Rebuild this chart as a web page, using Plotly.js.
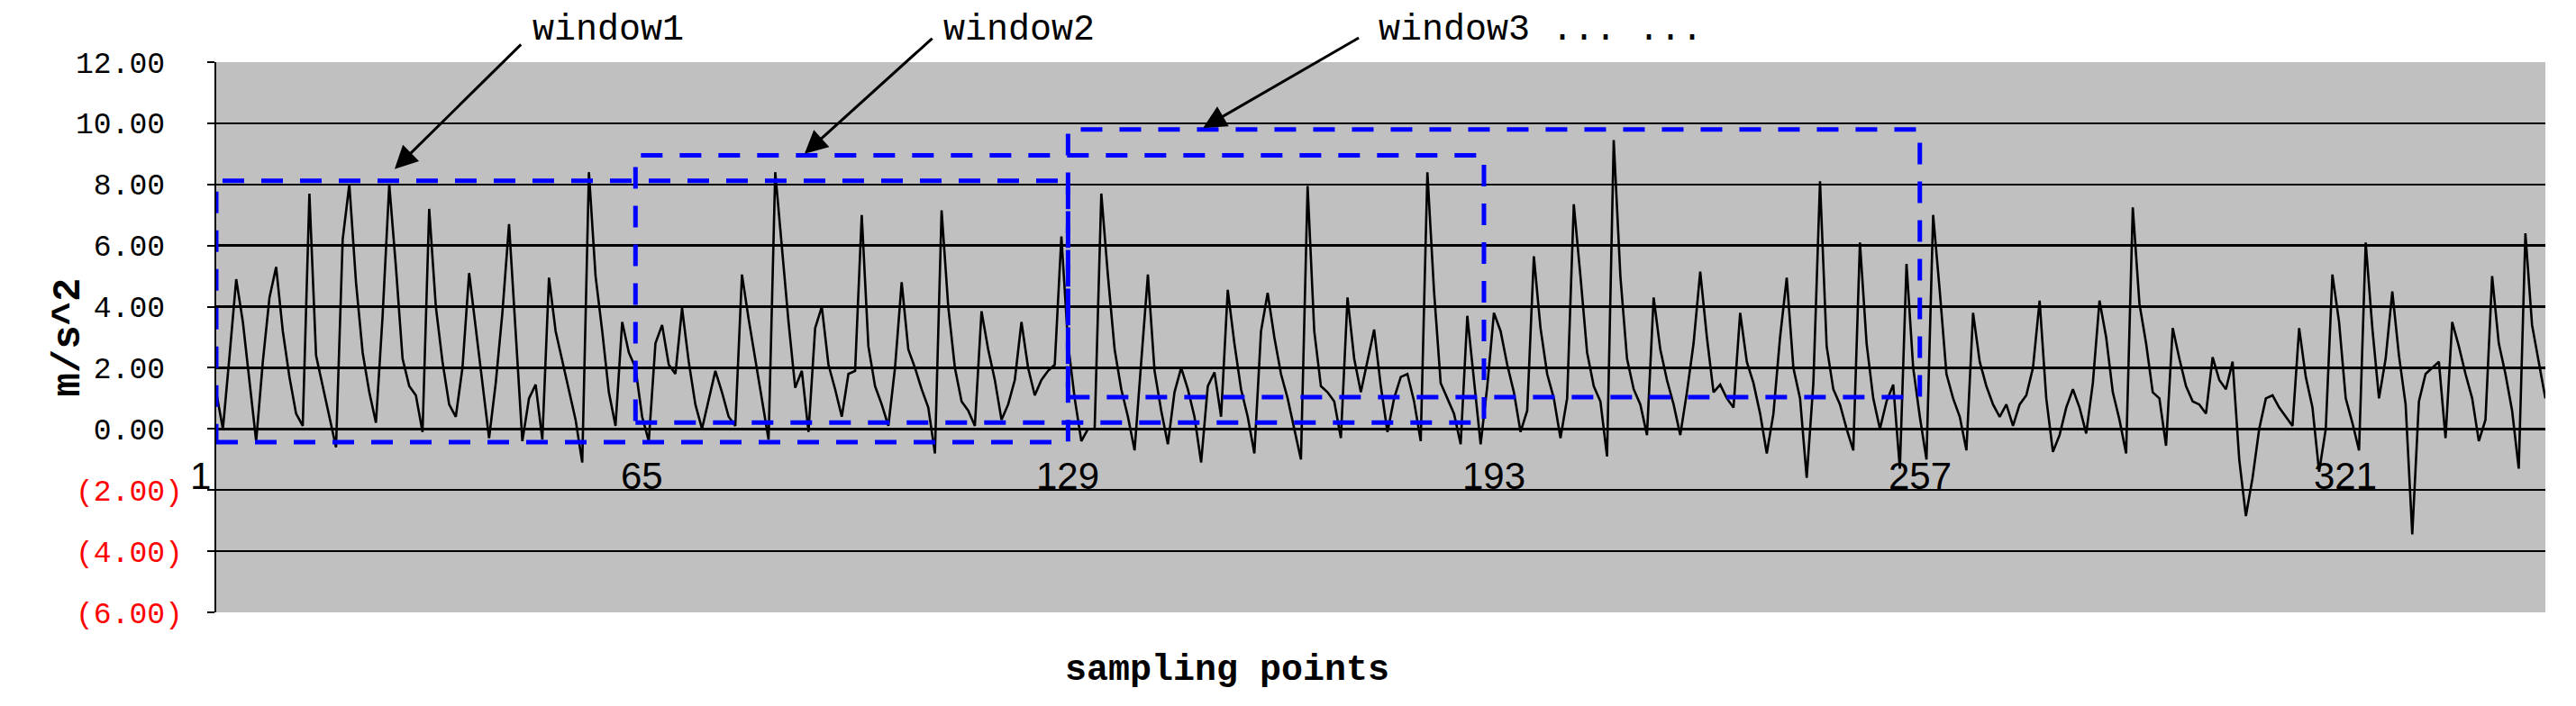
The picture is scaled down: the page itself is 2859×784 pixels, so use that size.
<!DOCTYPE html>
<html>
<head>
<meta charset="utf-8">
<script src="https://cdn.plot.ly/plotly-3.0.1.min.js"></script>
<style>
html, body { margin: 0; padding: 0; background: #ffffff; }
#chart { width: 2859px; height: 784px; }
</style>
</head>
<body>
<div id="chart"></div>
<script>
// acceleration samples (m/s^2)
const accel = [
  1.2, 0.0, 2.4, 4.9, 3.5, 1.6, -0.4, 2.2, 4.3, 5.3,
  3.2, 1.7, 0.5, 0.1, 7.7, 2.4, 1.4, 0.4, -0.6, 6.2,
  8.0, 4.8, 2.5, 1.2, 0.2, 3.7, 8.0, 5.3, 2.3, 1.4,
  1.1, -0.1, 7.2, 4.0, 2.2, 0.8, 0.4, 2.0, 5.1, 3.3,
  1.5, -0.3, 1.5, 3.8, 6.7, 3.0, -0.4, 1.0, 1.45, -0.35,
  4.95, 3.2, 2.2, 1.2, 0.3, -1.1, 8.4, 5.0, 3.2, 1.2,
  0.1, 3.5, 2.5, 2.0, 0.4, -0.4, 2.8, 3.4, 2.1, 1.8,
  3.95, 2.2, 0.8, 0.0, 1.0, 1.9, 1.2, 0.4, 0.1, 5.05,
  3.6, 2.3, 1.0, -0.35, 8.4, 6.0, 3.5, 1.35, 1.9, -0.1,
  3.3, 4.0, 2.1, 1.3, 0.4, 1.8, 1.9, 7.0, 2.7, 1.4,
  0.8, 0.1, 2.0, 4.8, 2.6, 2.0, 1.3, 0.7, -0.8, 7.15,
  4.0, 2.0, 0.9, 0.6, 0.1, 3.85, 2.6, 1.6, 0.3, 0.8,
  1.6, 3.5, 2.0, 1.1, 1.6, 1.9, 2.1, 6.3, 2.8, 1.0,
  -0.4, 0.0, 0.0, 7.7, 5.0, 2.6, 1.3, 0.4, -0.7, 2.2,
  5.05, 1.9, 0.6, -0.5, 1.2, 2.0, 1.3, 0.4, -1.1, 1.4,
  1.85, 0.4, 4.55, 2.8, 1.3, 0.4, -0.8, 3.2, 4.45, 3.0,
  1.8, 1.0, 0.0, -1.0, 7.95, 3.2, 1.4, 1.2, 0.9, -0.3,
  4.3, 2.3, 1.2, 2.2, 3.25, 1.4, -0.1, 1.0, 1.7, 1.8,
  0.9, -0.4, 8.4, 4.5, 1.5, 1.0, 0.5, -0.5, 3.7, 1.6,
  -0.5, 1.4, 3.8, 3.2, 2.1, 1.2, -0.1, 0.6, 5.65, 3.3,
  1.8, 1.0, -0.3, 1.0, 7.35, 5.0, 2.5, 1.4, 0.9, -0.9,
  9.45, 5.0, 2.3, 1.3, 0.8, -0.2, 4.3, 2.6, 1.6, 0.8,
  -0.2, 1.2, 2.8, 5.15, 3.0, 1.2, 1.45, 1.0, 0.7, 3.8,
  2.2, 1.5, 0.5, -0.8, 0.5, 3.0, 4.95, 2.0, 1.0, -1.6,
  1.5, 8.1, 2.7, 1.3, 0.8, 0.0, -0.7, 6.1, 2.8, 1.0,
  0.0, 0.9, 1.45, -1.3, 5.4, 2.0, 0.4, -1.0, 7.0, 4.5,
  1.8, 1.0, 0.4, -0.7, 3.8, 2.2, 1.4, 0.8, 0.4, 0.8,
  0.1, 0.8, 1.1, 2.0, 4.2, 1.0, -0.75, -0.2, 0.7, 1.3,
  0.7, -0.15, 1.5, 4.2, 3.0, 1.2, 0.3, -0.8, 7.25, 4.1,
  2.8, 1.2, 1.0, -0.55, 3.3, 2.3, 1.4, 0.9, 0.8, 0.5,
  2.35, 1.6, 1.3, 2.2, -1.0, -2.85, -1.6, 0.0, 1.0, 1.1,
  0.7, 0.4, 0.1, 3.3, 1.7, 0.7, -1.4, 0.0, 5.05, 3.5,
  1.0, 0.2, -0.7, 6.1, 3.3, 1.0, 2.3, 4.5, 2.4, 0.8,
  -3.45, 0.9, 1.8, 2.0, 2.2, -0.3, 3.5, 2.7, 1.8, 1.0,
  -0.4, 0.3, 5.0, 2.8, 1.8, 0.6, -1.3, 6.4, 3.4, 2.2, 1.0
];
const sampleIndex = accel.map((_, i) => i + 1);

// axis ticks
const xTickValues = [1, 65, 129, 193, 257, 321];
const yTickValues = [-6, -4, -2, 0, 2, 4, 6, 8, 10, 12];
const yMin = -6, yMax = 12;

// sliding windows (sample index range, acceleration range)
const windowNames = ['window1', 'window2', 'window3 ... ...'];
const windowStart = [1, 64, 129];
const windowEnd = [129, 191.5, 257];
const windowLow = [-0.43, 0.21, 1.04];
const windowHigh = [8.12, 8.95, 9.8];

// callout arrows (tail near the label, head on the window edge)
const arrowTailX = [47.0, 108.8, 172.9];
const arrowTailY = [12.62, 12.82, 12.82];
const arrowHeadX = [27.8, 89.4, 149.3];
const arrowHeadY = [8.5, 9.0, 9.85];
const labelX = [48.3, 110.0, 175.4];
const labelY = [13.06, 13.06, 13.06];

const yTickText = yTickValues.map(v => v < 0
  ? '<span style="color:#ff0000">(' + Math.abs(v).toFixed(2) + ')</span>'
  : v.toFixed(2) + '\u00a0');

const toPaperY = v => (v - yMin) / (yMax - yMin);

const shapes = windowNames.map((n, i) => ({
  type: 'rect', xref: 'x', yref: 'y', layer: 'above',
  x0: windowStart[i], x1: windowEnd[i], y0: windowLow[i], y1: windowHigh[i],
  line: { color: '#0000ff', width: 5, dash: '24px,19px' },
  fillcolor: 'rgba(0,0,0,0)'
}));

const annotations = [];
windowNames.forEach((n, i) => {
  annotations.push({
    xref: 'x', yref: 'y', axref: 'x', ayref: 'y',
    x: arrowHeadX[i], y: arrowHeadY[i], ax: arrowTailX[i], ay: arrowTailY[i],
    text: '', showarrow: true, arrowhead: 2, arrowsize: 1.7, arrowwidth: 3,
    arrowcolor: '#000000'
  });
  annotations.push({
    xref: 'x', yref: 'paper', x: labelX[i], y: toPaperY(labelY[i]), text: n,
    showarrow: false, xanchor: 'left', yanchor: 'middle',
    font: { family: 'Liberation Mono, monospace', size: 40, color: '#000000' }
  });
});
xTickValues.forEach((v, i) => {
  annotations.push({
    xref: 'x', yref: 'y', x: v, y: -1.55, text: String(v),
    showarrow: false, xanchor: i === 0 ? 'right' : 'center', yanchor: 'middle',
    xshift: i === 0 ? -4 : 0,
    font: { family: 'Liberation Sans, Arial, sans-serif', size: 42, color: '#000000' }
  });
});
annotations.push({
  xref: 'paper', yref: 'paper', x: 0.434, y: -0.105, text: 'sampling points',
  showarrow: false, xanchor: 'center', yanchor: 'middle',
  font: { family: 'Liberation Mono, monospace', size: 40, color: '#000000', weight: 'bold' }
});
annotations.push({
  xref: 'paper', yref: 'paper', x: -0.0638, y: 0.5, text: 'm/s^2', textangle: -90,
  showarrow: false, xanchor: 'center', yanchor: 'middle',
  font: { family: 'Liberation Mono, monospace', size: 44, color: '#000000', weight: 'bold' }
});

const trace = {
  type: 'scatter', mode: 'lines', x: sampleIndex, y: accel,
  line: { color: '#000000', width: 2.6 }, hoverinfo: 'skip'
};

const layout = {
  width: 2859, height: 784,
  margin: { l: 240, r: 34, t: 69, b: 104, pad: 0 },
  paper_bgcolor: '#ffffff', plot_bgcolor: '#c0c0c0',
  showlegend: false,
  xaxis: {
    range: [1, 351], showgrid: false, zeroline: false, showticklabels: false,
    ticks: '', showline: false, fixedrange: true
  },
  yaxis: {
    range: [yMin, yMax], tickmode: 'array', tickvals: yTickValues, ticktext: yTickText,
    showgrid: true, gridcolor: '#000000', gridwidth: 2.5, zeroline: false,
    showline: true, linecolor: '#000000', linewidth: 2.5,
    ticks: 'outside', ticklen: 8, tickwidth: 2, tickcolor: '#000000',
    ticklabelstandoff: 20,
    tickfont: { family: 'Liberation Mono, monospace', size: 33, color: '#000000' },
    fixedrange: true
  },
  shapes: shapes,
  annotations: annotations
};

Plotly.newPlot('chart', [trace], layout, { staticPlot: true, displayModeBar: false });
</script>
</body>
</html>
